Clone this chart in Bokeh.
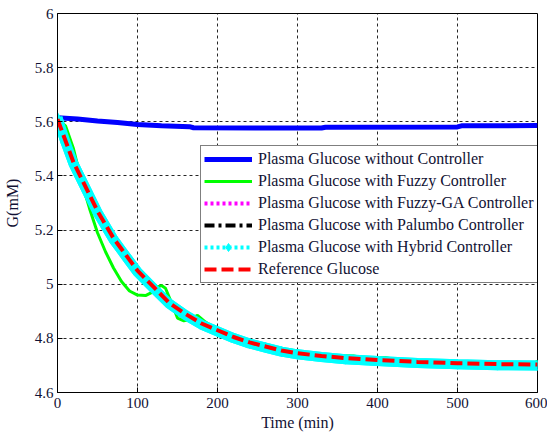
from bokeh.plotting import figure
from bokeh.models import Legend, LegendItem, FixedTicker
from bokeh.embed import file_html
from bokeh.resources import INLINE

# ---- data ----
t_blue = [0, 25, 50, 75, 100, 130, 165, 170, 250, 330, 335, 500, 505, 600]
g_blue = [5.615, 5.61, 5.603, 5.597, 5.59, 5.585, 5.582, 5.578, 5.577, 5.577, 5.58, 5.581, 5.585, 5.586]

t_fuzzy = [0, 10, 20, 30, 40, 50, 60, 70, 80, 90, 100, 110, 118, 125, 130, 135, 142, 150, 158,
           165, 175, 185, 200, 215, 225, 245, 270, 295, 310, 340, 370, 390, 410, 430, 450, 480,
           500, 550, 595, 600]
g_fuzzy = [5.61, 5.585, 5.50, 5.38, 5.28, 5.19, 5.12, 5.06, 5.01, 4.975, 4.96, 4.958, 4.97, 4.99,
           4.995, 4.985, 4.935, 4.875, 4.865, 4.87, 4.885, 4.86, 4.83, 4.815, 4.805, 4.785, 4.765,
           4.755, 4.748, 4.735, 4.735, 4.725, 4.728, 4.718, 4.718, 4.712, 4.71, 4.706, 4.708, 4.715]

t_ref = [0, 10, 20, 30, 40, 50, 60, 70, 80, 90, 100, 120, 140, 160, 180, 200, 220, 240, 260,
         280, 300, 330, 360, 400, 450, 500, 550, 600]
g_ref = [5.61, 5.53, 5.45, 5.39, 5.33, 5.27, 5.22, 5.17, 5.13, 5.09, 5.05, 4.99, 4.93, 4.89,
         4.855, 4.83, 4.805, 4.785, 4.77, 4.755, 4.745, 4.735, 4.727, 4.72, 4.713, 4.708, 4.705, 4.703]

g_hybrid = [5.615, 5.525, 5.445, 5.385, 5.325, 5.265, 5.215, 5.165, 5.125, 5.085, 5.045, 4.985,
            4.927, 4.886, 4.851, 4.826, 4.801, 4.781, 4.766, 4.751, 4.741, 4.731, 4.723, 4.716,
            4.709, 4.704, 4.701, 4.700]
g_fuzzyga = [5.612, 5.527, 5.447, 5.387, 5.327, 5.267, 5.217, 5.167, 5.127, 5.087, 5.047, 4.987,
             4.928, 4.887, 4.853, 4.828, 4.803, 4.783, 4.768, 4.753, 4.743, 4.733, 4.725, 4.718,
             4.711, 4.706, 4.703, 4.702]
g_palumbo = [5.61, 5.528, 5.448, 5.388, 5.328, 5.268, 5.218, 5.168, 5.128, 5.088, 5.048, 4.988,
             4.929, 4.888, 4.854, 4.829, 4.804, 4.784, 4.769, 4.754, 4.744, 4.734, 4.726, 4.719,
             4.712, 4.707, 4.704, 4.702]

x_ticks = [0, 100, 200, 300, 400, 500, 600]
y_ticks = [4.6, 4.8, 5.0, 5.2, 5.4, 5.6, 5.8, 6.0]
y_labels = ["4.6", "4.8", "5", "5.2", "5.4", "5.6", "5.8", "6"]

labels = ["Plasma Glucose without Controller",
          "Plasma Glucose with Fuzzy Controller",
          "Plasma Glucose with Fuzzy-GA Controller",
          "Plasma Glucose with Palumbo Controller",
          "Plasma Glucose with Hybrid Controller",
          "Reference Glucose"]

FONT = "Liberation Serif"
TXT = "#111133"

p = figure(frame_width=480, frame_height=379, x_range=(0, 600), y_range=(4.6, 6.0),
           output_backend="svg", toolbar_location=None,
           min_border_left=56, min_border_top=13, min_border_right=10, min_border_bottom=38,
           background_fill_color="white", border_fill_color="white")
p.outline_line_color = "black"
p.outline_line_width = 1

for ax in (p.xaxis[0], p.yaxis[0]):
    ax.major_tick_in = 5
    ax.major_tick_out = 0
    ax.minor_tick_line_color = None
    ax.axis_line_color = "black"
    ax.major_tick_line_color = "black"
    ax.major_label_text_font = FONT
    ax.major_label_text_font_size = "15px"
    ax.major_label_text_color = TXT
    ax.axis_label_text_font = FONT
    ax.axis_label_text_font_size = "16px"
    ax.axis_label_text_font_style = "normal"
    ax.axis_label_text_color = TXT

p.xaxis.ticker = FixedTicker(ticks=x_ticks)
p.yaxis.ticker = FixedTicker(ticks=y_ticks)
p.yaxis.major_label_overrides = {v: s for v, s in zip(y_ticks, y_labels)}
p.xaxis.axis_label = "Time (min)"
p.yaxis.axis_label = "G(mM)"
p.xaxis.major_label_standoff = 5
p.xaxis.axis_label_standoff = 3
p.yaxis.major_label_standoff = 4
p.yaxis.axis_label_standoff = 11

for g in (p.xgrid[0], p.ygrid[0]):
    g.grid_line_color = "black"
    g.grid_line_dash = "3 3"
    g.grid_line_width = 1
    g.grid_line_alpha = 0.85

# ---- series ----
r_blue = p.line(t_blue, g_blue, line_color="#0000ff", line_width=5)
r_band = p.line(t_ref, g_hybrid, line_color="#00ffff", line_width=10)
r_green = p.line(t_fuzzy, g_fuzzy, line_color="#00ff00", line_width=3)
r_mag = p.line(t_ref, g_fuzzyga, line_color="#ff00ff", line_width=4, line_dash="3 3")
r_blk = p.line(t_ref, g_palumbo, line_color="black", line_width=4, line_dash="10 4 3 4")
r_cyan = p.line(t_ref, g_hybrid, line_color="#00ffff", line_width=10)
r_cyan_leg = p.line(t_ref, g_hybrid, line_color="#00ffff", line_width=4, line_dash="3 3")
r_cyan_m = p.scatter(t_ref, g_hybrid, marker="diamond", size=10, fill_color="#00ffff",
                     line_color="#00ffff")
r_red = p.line(t_ref, g_ref, line_color="#ff0000", line_width=4, line_dash="12 5")

legend = Legend(items=[
    LegendItem(label=labels[0], renderers=[r_blue]),
    LegendItem(label=labels[1], renderers=[r_green]),
    LegendItem(label=labels[2], renderers=[r_mag]),
    LegendItem(label=labels[3], renderers=[r_blk]),
    LegendItem(label=labels[4], renderers=[r_cyan_leg, r_cyan_m]),
    LegendItem(label=labels[5], renderers=[r_red]),
], location=(143, 109))
legend.label_text_font = FONT
legend.label_text_font_size = "16px"
legend.label_text_color = TXT
legend.glyph_width = 48
legend.glyph_height = 20
legend.label_height = 20
legend.label_width = 279
legend.spacing = 2
legend.padding = 3
legend.margin = 0
legend.label_standoff = 6
legend.border_line_color = "black"
legend.border_line_width = 1
legend.background_fill_color = "white"
legend.background_fill_alpha = 1.0
p.add_layout(legend, "center")

open("out.html", "w").write(file_html(p, INLINE))
